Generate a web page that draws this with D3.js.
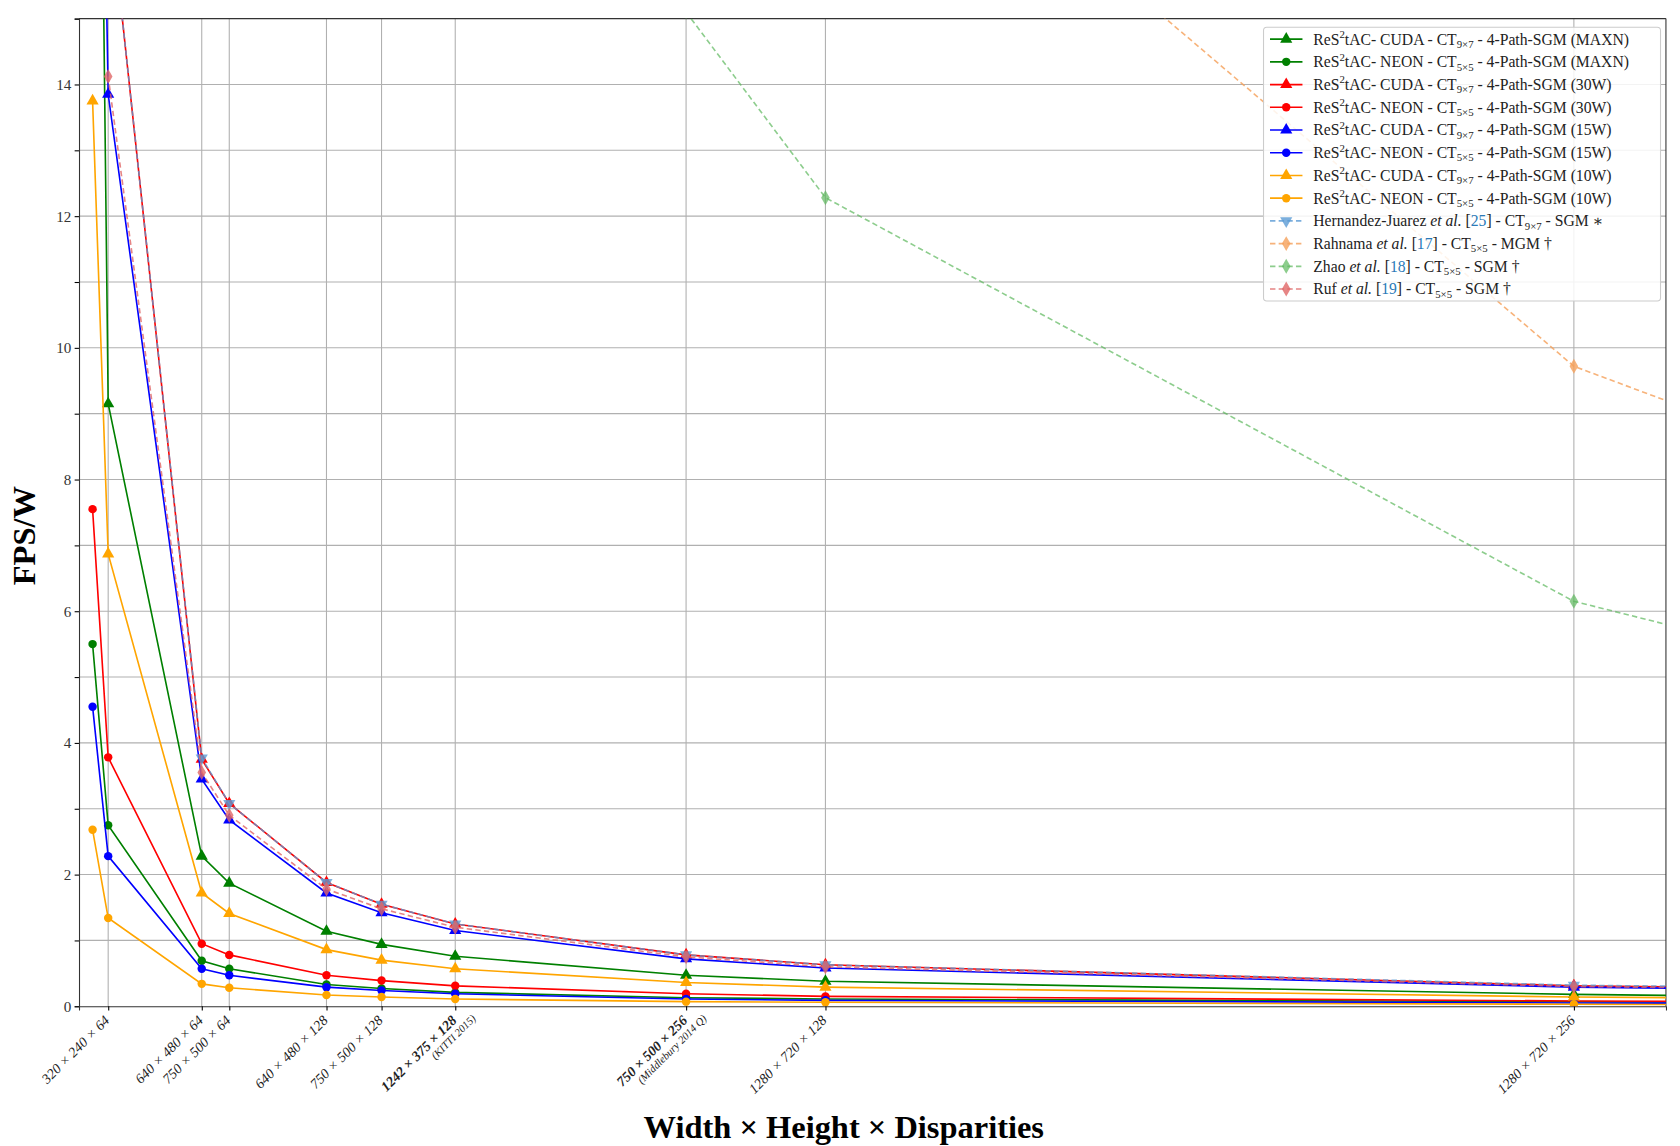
<!DOCTYPE html>
<html><head><meta charset="utf-8">
<script src="https://cdn.jsdelivr.net/npm/d3@7"></script>
<style>body{margin:0;background:#fff}text{font-family:"Liberation Serif","DejaVu Serif",serif}</style>
</head><body><svg id="chart" width="1680" height="1146" viewBox="0 0 1553 1059"></svg>
<script>
// x = width*height*disparities
const sizes = [320*240*32, 320*240*64, 640*480*64, 750*500*64, 640*480*128, 750*500*128, 1242*375*128, 750*500*256, 1280*720*128, 1280*720*256, 1920*1080*128];
const tickVals = [320*240*64, 640*480*64, 750*500*64, 640*480*128, 750*500*128, 1242*375*128, 750*500*256, 1280*720*128, 1280*720*256];
const tickLabels = ["320 × 240 × 64", "640 × 480 × 64", "750 × 500 × 64", "640 × 480 × 128", "750 × 500 × 128", "1242 × 375 × 128", "750 × 500 × 256", "1280 × 720 × 128", "1280 × 720 × 256"];
const tickBold = [false, false, false, false, false, true, true, false, false];
const tickSub = ["", "", "", "", "", "(KITTI 2015)", "(Middlebury 2014 Q)", "", ""];
const yTicks = [0, 2, 4, 6, 8, 10, 12, 14];

const cudaMaxn = [30, 9.15, 2.28, 1.87, 1.14, 0.94, 0.76, 0.47, 0.38, 0.18, 0.15];
const neonMaxn = [5.5, 2.75, 0.69, 0.57, 0.33, 0.27, 0.21, 0.13, 0.11, 0.07, 0.06];
const cuda30 = [28, 17, 3.75, 3.08, 1.88, 1.55, 1.25, 0.78, 0.63, 0.31, 0.28];
const neon30 = [7.55, 3.78, 0.95, 0.78, 0.47, 0.39, 0.31, 0.19, 0.15, 0.08, 0.07];
const cuda15 = [27.7, 13.85, 3.45, 2.83, 1.72, 1.42, 1.15, 0.72, 0.58, 0.29, 0.26];
const neon15 = [4.55, 2.28, 0.57, 0.47, 0.29, 0.24, 0.19, 0.11, 0.09, 0.05, 0.045];
const cuda10 = [13.75, 6.87, 1.72, 1.41, 0.86, 0.7, 0.57, 0.36, 0.29, 0.14, 0.12];
const neon10 = [2.68, 1.34, 0.34, 0.28, 0.17, 0.14, 0.11, 0.07, 0.06, 0.03, 0.025];
const hernandez = [null, 17, 3.77, 3.08, 1.88, 1.55, 1.25, 0.78, 0.63, 0.32, 0.29];
const rahnama = [null, null, null, null, null, null, null, null, 19.4, 9.72, 8.66];
const zhao = [null, null, null, null, null, null, null, 15.1, 12.28, 6.15, 5.44];
const ruf = [null, 14.12, 3.55, 2.9, 1.78, 1.48, 1.2, 0.75, 0.6, 0.3, 0.27];

const series = [
  {name: "CUDA", ct: "9×7", pw: "MAXN", v: cudaMaxn, c: "green", m: "tri"},
  {name: "NEON", ct: "5×5", pw: "MAXN", v: neonMaxn, c: "green", m: "dot"},
  {name: "CUDA", ct: "9×7", pw: "30W", v: cuda30, c: "red", m: "tri"},
  {name: "NEON", ct: "5×5", pw: "30W", v: neon30, c: "red", m: "dot"},
  {name: "CUDA", ct: "9×7", pw: "15W", v: cuda15, c: "blue", m: "tri"},
  {name: "NEON", ct: "5×5", pw: "15W", v: neon15, c: "blue", m: "dot"},
  {name: "CUDA", ct: "9×7", pw: "10W", v: cuda10, c: "orange", m: "tri"},
  {name: "NEON", ct: "5×5", pw: "10W", v: neon10, c: "orange", m: "dot"},
  {ref: ["Hernandez-Juarez", "25", "9×7", "SGM ∗"], v: hernandez, c: "#5b9bd5", m: "tdown", dash: true, op: 0.8},
  {ref: ["Rahnama", "17", "5×5", "MGM †"], v: rahnama, c: "#f5a05a", m: "dia", dash: true, op: 0.8},
  {ref: ["Zhao", "18", "5×5", "SGM †"], v: zhao, c: "#5cb85c", m: "dia", dash: true, op: 0.7},
  {ref: ["Ruf", "19", "5×5", "SGM †"], v: ruf, c: "#e06666", m: "dia", dash: true, op: 0.8}
];

const svg = d3.select("#chart");
const L = 73, R = 1540, T = 17, B = 930;
const x = d3.scaleLinear().domain([320*240*64 - 27/5.865e-6, 320*240*64 + 1440/5.865e-6]).range([L, R]);
const y = d3.scaleLinear().domain([0, 15]).range([B, T]);

svg.append("defs").append("clipPath").attr("id", "clip")
  .append("rect").attr("x", L).attr("y", T).attr("width", R - L).attr("height", B - T);

// grid
svg.append("g").selectAll("line").data(d3.range(1, 15)).join("line")
  .attr("x1", L).attr("x2", R).attr("y1", d => y(d)).attr("y2", d => y(d))
  .attr("stroke", "#b0b0b0").attr("stroke-width", 1);
svg.append("g").selectAll("line").data(tickVals).join("line")
  .attr("x1", d => x(d)).attr("x2", d => x(d)).attr("y1", T).attr("y2", B)
  .attr("stroke", "#b0b0b0").attr("stroke-width", 1);

// axes
const ya = svg.append("g").attr("transform", `translate(${L},0)`)
  .call(d3.axisLeft(y).tickValues(d3.range(0, 16)).tickSize(4).tickFormat(d => yTicks.includes(d) ? d : ""));
ya.selectAll("text").attr("font-size", 14).attr("fill", "#333").attr("font-family", "Liberation Serif");
ya.select(".domain").attr("stroke", "#333");
const xa = svg.append("g").attr("transform", `translate(0,${B})`)
  .call(d3.axisBottom(x).tickValues(tickVals).tickSize(4).tickFormat(""));
xa.select(".domain").attr("stroke", "#333");
svg.append("line").attr("x1", L).attr("x2", R).attr("y1", T).attr("y2", T).attr("stroke", "#333");
svg.append("line").attr("x1", R).attr("x2", R).attr("y1", T).attr("y2", B).attr("stroke", "#333");

tickVals.forEach((t, i) => {
  const g = svg.append("g").attr("transform", `translate(${x(t) + 2},${B + 14}) rotate(-45)`);
  g.append("text").attr("text-anchor", "end").attr("font-size", 13).attr("font-style", "italic")
    .attr("font-weight", tickBold[i] ? "bold" : "normal").attr("fill", "#222").text(tickLabels[i]);
  if (tickSub[i]) g.append("text").attr("text-anchor", "end").attr("x", 14).attr("y", 11)
    .attr("font-size", 10).attr("font-style", "italic").attr("fill", "#222").text(tickSub[i]);
});

// lines
const plot = svg.append("g").attr("clip-path", "url(#clip)");
const line = d3.line().defined(d => d[1] != null).x(d => x(d[0])).y(d => y(d[1]));
const symbolOf = m => m === "tri" || m === "tdown" ? d3.symbolTriangle : m === "dot" ? d3.symbolCircle : d3.symbolDiamond;
function marker(g, m, c, op, px, py) {
  return g.append("path").attr("d", d3.symbol(symbolOf(m), m === "dot" ? 48 : 55)())
    .attr("fill", c).attr("opacity", op || 1)
    .attr("transform", `translate(${px},${py})` + (m === "tdown" ? " rotate(180)" : ""));
}
series.forEach(s => {
  const pts = sizes.map((sz, i) => [sz, s.v[i]]);
  plot.append("path").datum(pts).attr("d", line).attr("fill", "none")
    .attr("stroke", s.c).attr("stroke-width", 1.5).attr("opacity", s.op || 1)
    .attr("stroke-dasharray", s.dash ? "5,3" : null);
  pts.filter(p => p[1] != null).forEach(p => marker(plot, s.m, s.c, s.op, x(p[0]), y(p[1])));
});

// legend
const lg = svg.append("g").attr("transform", "translate(1168,25)");
lg.append("rect").attr("width", 367).attr("height", 253).attr("rx", 3).attr("fill", "white")
  .attr("fill-opacity", 0.85).attr("stroke", "#ccc");
series.forEach((s, i) => {
  const yy = 11 + i * 21;
  lg.append("line").attr("x1", 6).attr("x2", 36).attr("y1", yy).attr("y2", yy).attr("stroke", s.c)
    .attr("stroke-width", 1.5).attr("opacity", s.op || 1).attr("stroke-dasharray", s.dash ? "5,3" : null);
  marker(lg, s.m, s.c, s.op, 21, yy);
  const t = lg.append("text").attr("x", 46).attr("y", yy + 5).attr("font-size", 14.5).attr("fill", "#222");
  if (s.ref) {
    t.append("tspan").text(s.ref[0] + " ");
    t.append("tspan").attr("font-style", "italic").text("et al.");
    t.append("tspan").text(" [");
    t.append("tspan").attr("fill", "#2a7ab8").text(s.ref[1]);
    t.append("tspan").text("] - CT");
    t.append("tspan").attr("font-size", 10).attr("dy", 3).text(s.ref[2]);
    t.append("tspan").attr("dy", -3).text(" - " + s.ref[3]);
  } else {
    t.append("tspan").text("ReS");
    t.append("tspan").attr("font-size", 10).attr("dy", -6).text("2");
    t.append("tspan").attr("dy", 6).text("tAC- " + s.name + " - CT");
    t.append("tspan").attr("font-size", 10).attr("dy", 3).text(s.ct);
    t.append("tspan").attr("dy", -3).text(" - 4-Path-SGM (" + s.pw + ")");
  }
});

// axis titles
svg.append("text").attr("transform", "translate(32,495) rotate(-90)").attr("text-anchor", "middle")
  .attr("font-size", 30).attr("font-weight", "bold").text("FPS/W");
svg.append("text").attr("x", 780).attr("y", 1052).attr("text-anchor", "middle")
  .attr("font-size", 30).attr("font-weight", "bold").text("Width × Height × Disparities");
</script></body></html>
